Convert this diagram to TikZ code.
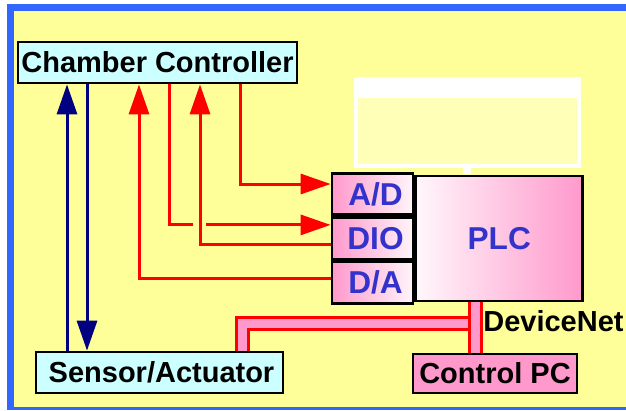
\documentclass[tikz,border=0pt]{standalone}
\usepackage{fontspec}
\setmainfont{Liberation Sans}
\usetikzlibrary{arrows.meta,positioning,calc}
\definecolor{bgyellow}{RGB}{255,255,153}
\definecolor{frameblue}{RGB}{51,102,255}
\definecolor{boxcyan}{RGB}{204,255,255}
\definecolor{plcpink}{RGB}{255,153,204}
\definecolor{sigred}{RGB}{255,0,0}
\definecolor{busnavy}{RGB}{0,0,128}
\definecolor{lblblue}{RGB}{51,51,204}
\newcommand{\boxfont}{\fontsize{16.5}{18}\selectfont\bfseries}
\newcommand{\cellfont}{\fontsize{18}{20}\selectfont\bfseries}

\begin{document}
\begin{tikzpicture}[x=0.2mm, y=-0.2mm, >={Triangle[length=6mm,width=4mm]},
  ctrl/.style={draw=black, line width=0.55mm, fill=boxcyan, inner sep=0pt,
               minimum height=8.2mm, font=\boxfont},
  cell/.style={draw=black, line width=0.55mm, left color=plcpink, right color=plcpink!10,
               minimum width=16.2mm, minimum height=8.33mm, inner sep=0pt,
               font=\cellfont, text=lblblue},
  sig/.style={draw=sigred, line width=0.6mm},
  bus/.style={draw=busnavy, line width=0.6mm},
  dnet/.style={draw=sigred, line width=0.6mm, double=plcpink, double distance=1.8mm}]

\useasboundingbox (0,0) rectangle (626,410);

% --- frame (open on the right) ---
\fill[white] (0,0) rectangle (626,410);
\fill[frameblue] (7,4) rectangle (14,410);
\fill[frameblue] (7,4) rectangle (626,11);
\fill[frameblue] (7,407) rectangle (626,410);
\fill[bgyellow] (14,11) rectangle (626,407);

% --- white patch above the PLC ---
\fill[bgyellow!70!white] (356,80) rectangle (579,166);
\fill[white] (354,77) rectangle (581,98);
\draw[white, line width=0.7mm] (356,96) rectangle (579,166);
\fill[white] (463,166) rectangle (471,174);

% --- boxes ---
\node[ctrl, minimum width=55.8mm] (cc) at (157.5,62.5) {Chamber Controller};
\node[ctrl, minimum width=49.4mm] (sa) at (159.5,372.5) {\hspace*{0.8mm}Sensor/Actuator};

% --- PLC with its I/O cells ---
\node[cell] (ad) at (372.5,194) {\hspace*{1.2mm}A/D};
\node[cell, below=0pt of ad] (dio) {\hspace*{1.2mm}DIO};
\node[cell, below=0pt of dio] (da) {\hspace*{1.2mm}D/A};
\node[draw=black, line width=0.55mm, left color=plcpink!8, right color=plcpink,
      minimum width=33.4mm, minimum height=25mm, right=0pt of dio,
      font=\cellfont, text=lblblue] (plc) {PLC};

\node[ctrl, fill=plcpink, minimum width=32.8mm, minimum height=7.8mm] (pc) at (495,373.5) {Control PC};
\node[anchor=west, inner sep=0pt, font=\boxfont] (dnlbl) at (483,321) {DeviceNet};

% --- columns and PLC inputs ---
\coordinate (b1) at (67,0);
\coordinate (b2) at (87,0);
\coordinate (r1) at (139,0);
\coordinate (r2) at (169,0);
\coordinate (r3) at (200,0);
\coordinate (r4) at (240,0);
\coordinate (adin) at ([yshift=2mm]ad.west);
\coordinate (dioa) at ([yshift=2.7mm]dio.west);
\coordinate (diob) at ([yshift=-1.3mm]dio.west);
\coordinate (dain) at ([yshift=0.85mm]da.west);

% --- sensor lines ---
\draw[bus, ->] (sa.north -| b1) -- (cc.south -| b1);
\draw[bus, ->] (cc.south -| b2) -- (sa.north -| b2);

% --- PLC signals ---
\draw[sig, <-] (cc.south -| r1) |- (dain);
\draw[sig] (cc.south -| r2) |- ($(r3 |- dioa)+(-7,0)$);
\draw[sig, ->] ($(r3 |- dioa)+(6,0)$) -- (dioa);
\draw[sig, <-] (cc.south -| r3) |- (diob);
\draw[sig, ->] (cc.south -| r4) |- (adin);

% --- DeviceNet ---
\coordinate (dl) at (242.5,323.5);
\coordinate (dn) at (475.5,323.5);
\draw[dnet] (sa.north -| dl) -- (dl) -- (dn);
\draw[dnet] (plc.south -| dn) -- (pc.north -| dn);
\end{tikzpicture}
\end{document}
